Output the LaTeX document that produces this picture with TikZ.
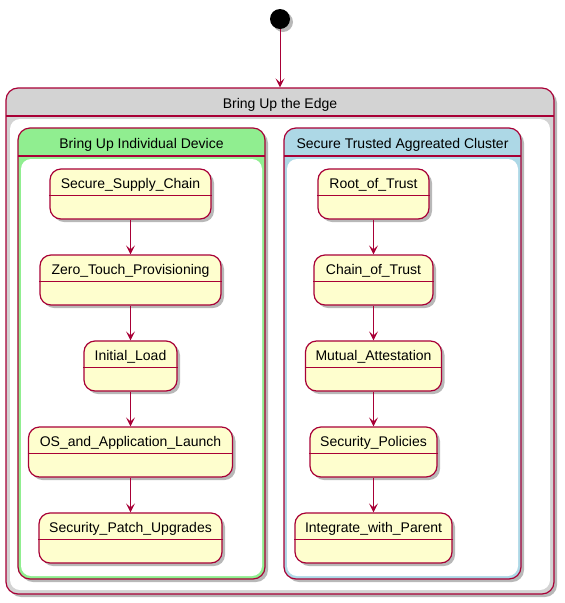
\documentclass[tikz,border=0pt]{standalone}
\usepackage{fontspec}
\setmainfont{Liberation Sans}
\usetikzlibrary{shadows,arrows.meta,calc}
\definecolor{pbord}{HTML}{A80036}
\definecolor{pfill}{HTML}{FEFECE}
\definecolor{hgray}{HTML}{D3D3D3}
\definecolor{hgreen}{HTML}{90EE90}
\definecolor{hblue}{HTML}{ADD8E6}
\tikzset{
  shad/.style={drop shadow={shadow xshift=3pt,shadow yshift=-3pt,fill=black,opacity=0.28}},
  statebox/.style={draw=pbord,fill=pfill,line width=1.2pt,rounded corners=11pt,minimum height=50pt,inner sep=0pt,shad},
  compbox/.style={draw=pbord,line width=1.2pt,rounded corners=12pt,inner sep=0pt,shad},
  innerwhite/.style={fill=white,rounded corners=10pt},
  sep/.style={draw=pbord,line width=1.2pt},
  ttl/.style={font=\fontsize{14}{16}\selectfont,inner sep=0pt,anchor=base},
  trans/.style={draw=pbord,line width=1pt,-{Stealth[length=9pt,width=9pt,inset=4pt]}}
}
\begin{document}
\begin{tikzpicture}[x=1pt,y=-1pt]
\useasboundingbox (0,0) rectangle (565,603);
% initial state
\node[circle,fill=black,minimum size=20pt,inner sep=0pt,shad] (init) at (280,19) {};
% outer composite
\node[compbox,fill=hgray,minimum width=548pt,minimum height=506pt] (edge) at (280,341) {};
\draw[sep] (6,116) -- (554,116);
\fill[innerwhite] (10,119) rectangle (550,590);
\node[ttl] (edget) at (280,108) {Bring Up the Edge};
% green composite
\node[compbox,fill=hgreen,minimum width=247pt,minimum height=451pt] (dev) at (141.5,353.5) {};
\draw[sep] (18,156) -- (265,156);
\fill[innerwhite] (21,159) rectangle (262,576);
\node[ttl] (devt) at (141.5,148) {Bring Up Individual Device};
% blue composite
\node[compbox,fill=hblue,minimum width=237pt,minimum height=451pt] (clu) at (402.5,353.5) {};
\draw[sep] (284,156) -- (521,156);
\fill[innerwhite] (287,159) rectangle (518,576);
\node[ttl] (clut) at (402.5,148) {Secure Trusted Aggreated Cluster};
% left states
\node[statebox,minimum width=161pt] (ssc) at (130.5,194) {};
\node[statebox,minimum width=181pt] (ztp) at (130.5,280) {};
\node[statebox,minimum width=93pt] (il) at (130.5,366) {};
\node[statebox,minimum width=204pt] (os) at (130.5,452) {};
\node[statebox,minimum width=183pt] (spu) at (130.5,538) {};
% right states
\node[statebox,minimum width=111pt] (rot) at (373.5,194) {};
\node[statebox,minimum width=119pt] (cot) at (373.5,280) {};
\node[statebox,minimum width=136pt] (ma) at (373.5,366) {};
\node[statebox,minimum width=127pt] (sp) at (373.5,452) {};
\node[statebox,minimum width=157pt] (iwp) at (373.5,538) {};
% separators and titles
\foreach \n/\t in {ssc/Secure\_Supply\_Chain,ztp/Zero\_Touch\_Provisioning,il/Initial\_Load,os/OS\_and\_Application\_Launch,spu/Security\_Patch\_Upgrades,rot/Root\_of\_Trust,cot/Chain\_of\_Trust,ma/Mutual\_Attestation,sp/Security\_Policies,iwp/Integrate\_with\_Parent}{
  \draw[sep] ($(\n.north west)+(0,27)$) -- ($(\n.north east)+(0,27)$);
  \node[ttl] (\n t) at ($(\n.north)+(0,20)$) {\t};
}
% transitions
\draw[trans] (init) -- (edge.north);
\draw[trans] (ssc) -- (ztp);
\draw[trans] (ztp) -- (il);
\draw[trans] (il) -- (os);
\draw[trans] (os) -- (spu);
\draw[trans] (rot) -- (cot);
\draw[trans] (cot) -- (ma);
\draw[trans] (ma) -- (sp);
\draw[trans] (sp) -- (iwp);
\end{tikzpicture}
\end{document}
